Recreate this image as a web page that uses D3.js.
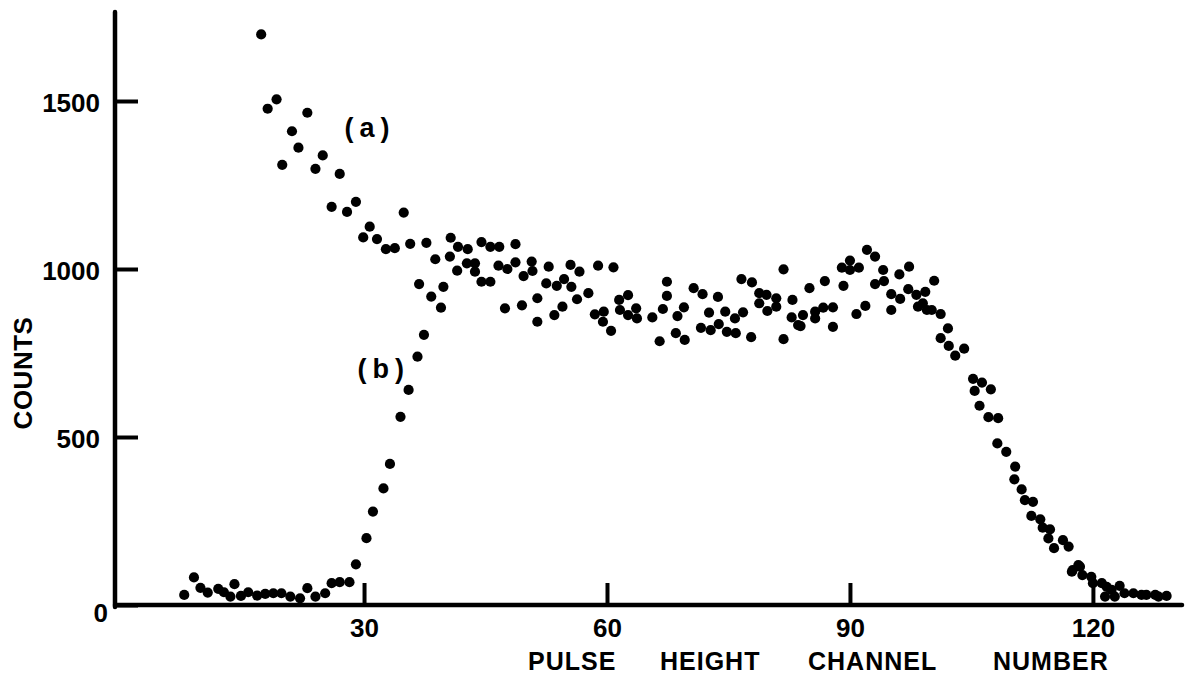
<!DOCTYPE html>
<html>
<head>
<meta charset="utf-8">
<script src="https://cdn.jsdelivr.net/npm/d3@7/dist/d3.min.js"></script>
<style>
  html, body { margin: 0; padding: 0; background: #fff; }
  svg { display: block; }
  text { font-family: "Liberation Sans", Arial, sans-serif; font-weight: bold; fill: #000; }
</style>
</head>
<body>
<svg id="chart" width="1194" height="681"></svg>
<script>
// Pulse height spectra: [channel, counts]
const curveA = [
  [17.3,1698],[18.1,1477],[19.2,1505],[19.9,1310],[21.1,1410],[21.9,1361],[23.0,1465],
  [24.0,1298],[24.9,1338],[26.0,1185],[27.0,1283],[27.9,1170],[29.0,1200],[29.9,1094],
  [30.7,1126],[31.6,1089],[32.7,1059],[33.8,1062],[34.9,1168],[35.7,1075],[37.7,1078],
  [38.8,1029],[40.7,1093],[41.6,1066],[42.8,1059],[43.7,1017],[44.5,1080],[45.6,1066],
  [46.7,1066],[47.7,1000],[48.7,1074],[49.7,979],[50.7,1022],[52.8,1007],[53.8,950],
  [54.7,970],[55.5,1012],[56.6,992],[57.7,928],[58.9,1010],[59.6,873],[60.8,1005],
  [61.5,908],[62.6,922],[63.6,883],[65.6,856],[66.9,881],[67.4,962],[68.7,860],
  [69.5,886],[70.7,943],[71.8,925],[72.6,870],[73.7,917],[74.6,873],[75.8,853],
  [76.6,970],[77.9,960],[78.8,928],[79.7,923],[80.9,913],[81.8,999],[82.9,908],
  [84.2,863],[85.0,943],[86.9,964],[87.9,886],[89.0,1004],[90.0,1025],[91.1,1004],
  [92.1,1057],[93.1,1037],[94.1,997],[95.1,925],[96.1,984],[97.3,1007],[98.2,923],
  [99.3,932],[100.4,965],[101.2,866],[102.2,771],[103.0,742],[104.1,763],[105.2,673],
  [106.3,662],[107.4,642],[108.3,556],[109.3,456],[110.4,412],[111.6,312],[112.6,307],
  [113.8,230],[114.7,225],[116.3,193],[117.0,174],[118.4,114],[119.8,84],[121.1,65],
  [122.3,45],[123.3,57],[125.0,35],[126.6,30],[127.7,30],[129.1,27]
];
const curveB = [
  [7.8,30],[9.0,82],[9.8,51],[10.7,37],[12.0,48],[12.7,38],[13.5,25],[14.0,62],
  [14.8,27],[15.7,38],[16.8,28],[17.8,33],[18.8,35],[19.8,35],[20.9,25],[22.1,20],
  [23.0,50],[24.0,25],[25.2,35],[26.0,65],[27.0,68],[28.2,68],[29.0,121],[30.3,199],
  [31.1,278],[32.4,347],[33.2,420],[34.5,560],[35.5,640],[36.6,739],[37.4,804],
  [36.8,955],[38.3,918],[39.5,885],[39.8,947],[40.6,1037],[41.5,995],[42.7,1017],
  [43.7,992],[44.5,962],[45.6,962],[46.6,1010],[47.4,883],[48.7,1020],[49.5,892],
  [50.8,994],[51.4,913],[51.4,843],[52.5,957],[53.5,863],[54.5,888],[55.6,947],
  [56.3,910],[58.5,865],[59.5,843],[60.5,816],[61.6,878],[62.6,863],[63.7,853],
  [66.5,785],[67.4,920],[68.5,809],[69.6,789],[71.6,825],[72.8,818],[73.8,836],
  [74.8,813],[75.9,809],[76.8,871],[77.8,797],[78.8,898],[79.8,875],[80.9,888],
  [81.8,791],[82.8,856],[83.6,833],[83.9,830],[85.7,873],[85.7,853],[86.7,885],
  [87.9,828],[89.2,950],[90.0,997],[90.8,866],[91.9,890],[93.1,955],[94.2,964],
  [95.1,878],[96.2,911],[97.2,940],[98.4,888],[99.0,898],[99.5,878],[100.1,878],
  [101.2,794],[102.1,823],[105.4,637],[106.0,593],[107.1,559],[108.2,481],[110.3,374],
  [111.2,344],[112.4,265],[113.5,255],[114.5,198],[115.2,169],[117.4,99],[117.5,104],
  [118.2,119],[118.7,89],[120.0,65],[121.5,25],[121.7,54],[122.7,25],[123.9,35],
  [126.0,30],[128.1,25]
];
const xTicks = [30, 60, 90, 120];
const yTicks = [0, 500, 1000, 1500];
const xTitleWords = ["PULSE", "HEIGHT", "CHANNEL", "NUMBER"];
const yTitle = "COUNTS";
const curveLabels = [
  { text: "(a)", channel: 27.6, counts: 1392 },
  { text: "(b)", channel: 29.2, counts: 675 }
];

const svg = d3.select("#chart");

// channel axis runs a little past both ends of the data
const xScale = d3.scaleLinear().domain([-0.75, 131]).range([115, 1182]);
const yScale = d3.scaleLinear().domain([0, 1500]).range([605, 101]);
const yTop = 1765;

// axis lines
svg.append("line")
  .attr("x1", xScale(-0.75)).attr("x2", xScale(-0.75))
  .attr("y1", yScale(yTop)).attr("y2", yScale(0) + 2)
  .attr("stroke", "#000").attr("stroke-width", 4.5).attr("stroke-linecap", "round");
svg.append("line")
  .attr("x1", xScale(-0.75)).attr("x2", xScale(131))
  .attr("y1", yScale(0)).attr("y2", yScale(0))
  .attr("stroke", "#000").attr("stroke-width", 4.5).attr("stroke-linecap", "round");

// y axis: ticks point into the plot, labels on the left
const yAxis = svg.append("g")
  .attr("transform", `translate(${xScale(-0.75)},0)`)
  .call(d3.axisLeft(yScale).tickValues(yTicks).tickFormat(d3.format("d"))
    .tickSizeInner(-23).tickSizeOuter(0).tickPadding(15));
yAxis.select(".domain").remove();
yAxis.selectAll(".tick line").attr("stroke", "#000").attr("stroke-width", 4);
yAxis.selectAll(".tick text")
  .attr("font-size", 26).attr("font-family", null).attr("fill", "#000")
  .attr("dy", "0.40em")
  .attr("transform", d => d === 0 ? "translate(8,6)" : null);

// x axis: ticks point up, labels below
const xAxis = svg.append("g")
  .attr("transform", `translate(0,${yScale(0)})`)
  .call(d3.axisBottom(xScale).tickValues(xTicks).tickFormat(d3.format("d"))
    .tickSizeInner(-22).tickSizeOuter(0).tickPadding(14));
xAxis.select(".domain").remove();
xAxis.selectAll(".tick line").attr("stroke", "#000").attr("stroke-width", 4);
xAxis.selectAll(".tick text")
  .attr("font-size", 26).attr("font-family", null).attr("fill", "#000");

// axis titles
const xTitle = svg.append("text")
  .attr("y", 670).attr("font-size", 25).attr("letter-spacing", 1);
const wordStarts = [528, 660, 808, 993];
xTitle.selectAll("tspan").data(xTitleWords).join("tspan")
  .attr("x", (d, i) => wordStarts[i])
  .text(d => d);

svg.append("text")
  .attr("transform", "translate(32,373) rotate(-90)")
  .attr("text-anchor", "middle")
  .attr("font-size", 26).attr("letter-spacing", 0.5)
  .text(yTitle);

// data points
const dots = svg.append("g").attr("fill", "#000");
[curveA, curveB].forEach(series => {
  dots.selectAll(null).data(series).join("circle")
    .attr("cx", d => xScale(d[0]))
    .attr("cy", d => yScale(d[1]))
    .attr("r", 5.1);
});

// curve labels
svg.selectAll(".curve-label").data(curveLabels).join("text")
  .attr("class", "curve-label")
  .attr("x", d => xScale(d.channel))
  .attr("y", d => yScale(d.counts))
  .attr("font-size", 27).attr("letter-spacing", 6)
  .text(d => d.text);
</script>
</body>
</html>
